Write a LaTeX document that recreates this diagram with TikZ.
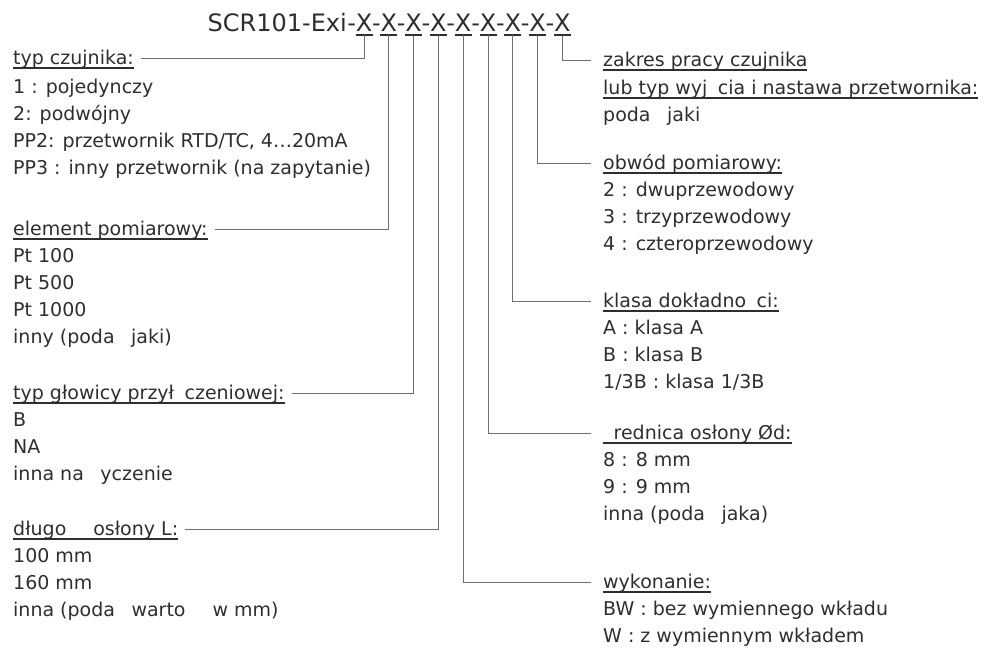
\documentclass[tikz,border=0pt]{standalone}
\usepackage{fontspec}
\setmainfont{DejaVu Sans}
\usetikzlibrary{calc}

\definecolor{ink}{HTML}{2E2E2E}
\definecolor{leadgray}{HTML}{707070}

% underlined heading text and a gap for a missing letter
\newcommand{\uln}[1]{\setbox0=\hbox{#1}\rlap{\rule[-4.5pt]{\wd0}{1.8pt}}\box0}
\newcommand{\miss}{\hspace{0.55em}}

\begin{document}
\begin{tikzpicture}[x=1pt, y=-1pt, line cap=butt, line join=miter]

% ---------------- styles ----------------
\tikzset{
  code/.style={font=\fontsize{24}{28}\selectfont, text=ink, inner sep=0pt},
  head/.style={font=\fontsize{19}{27}\selectfont, text=ink, inner sep=0pt, anchor=west,
               text height=14pt, text depth=1pt},
  item/.style={head},
  lead/.style={draw=leadgray, line width=0.9pt, shorten >=7pt},
  leadR/.style={lead, shorten >=12pt},
  bar/.style={draw=ink, line width=1.8pt}
}

% ---------------- parameters ----------------
\def\xfirst{364}   % centre of first X
\def\xstep{24.8}   % pitch of the X fields
\def\xl{13}        % left text column
\def\xr{603}       % right text column

\useasboundingbox (0,0) rectangle (997,651);

% ---------------- order code ----------------
\foreach \i in {1,...,9}{
  \node[code, anchor=base] (x\i) at ({\xfirst+\xstep*(\i-1)},31) {X};
  \node[code, anchor=base] (d\i) at ({\xfirst-\xstep/2+\xstep*(\i-1)},31) {-};
  \coordinate (b\i) at ([yshift=-4pt]x\i.base);
  \draw[bar] ([xshift=-8.5pt]b\i) -- ([xshift=8.5pt]b\i);
}
\node[code, anchor=base east] (code) at (d1.base west) {SCR101-Exi};

% ---------------- left column ----------------
\node[head] (h1) at (\xl,58) {\uln{typ czujnika:}};
\foreach \t [count=\k] in {1 : pojedynczy, 2: podwójny, {PP2: przetwornik RTD/TC, 4…20mA},
    PP3 : inny przetwornik (na zapytanie)}
  \node[item] (s1-\k) at (\xl,{87+27*(\k-1)}) {\t};

\node[head] (h2) at (\xl,229) {\uln{element pomiarowy:}};
\foreach \t [count=\k] in {Pt 100, Pt 500, Pt 1000, inny (poda\miss{} jaki)}
  \node[item] (s2-\k) at (\xl,{256+27*(\k-1)}) {\t};

\node[head] (h3) at (\xl,393) {\uln{typ głowicy przył\miss czeniowej:}};
\foreach \t [count=\k] in {B, NA, inna na \miss yczenie}
  \node[item] (s3-\k) at (\xl,{420+27*(\k-1)}) {\t};

\node[head] (h4) at (\xl,529) {\uln{długo\miss\miss{} osłony L:}};
\foreach \t [count=\k] in {100 mm, 160 mm, inna (poda\miss{} warto\miss\miss{} w mm)}
  \node[item] (s4-\k) at (\xl,{556+27*(\k-1)}) {\t};

% ---------------- right column ----------------
\node[head] (h9) at (\xr,60) {\uln{zakres pracy czujnika}};
\node[head] (h9b) at (\xr,88) {\uln{lub typ wyj\miss cia i nastawa przetwornika:}};
\node[item] (s9-1) at (\xr,115) {poda\miss{} jaki};

\node[head] (h8) at (\xr,163) {\uln{obwód pomiarowy:}};
\foreach \t [count=\k] in {2 : dwuprzewodowy, 3 : trzyprzewodowy, 4 : czteroprzewodowy}
  \node[item] (s8-\k) at (\xr,{190+27*(\k-1)}) {\t};

\node[head] (h7) at (\xr,301) {\uln{klasa dokładno\miss ci:}};
\foreach \t [count=\k] in {A : klasa A, B : klasa B, 1/3B : klasa 1/3B}
  \node[item] (s7-\k) at (\xr,{328+27*(\k-1)}) {\t};

\node[head] (h6) at (\xr,433) {\uln{\miss rednica osłony Ød:}};
\foreach \t [count=\k] in {8 : 8 mm, 9 : 9 mm, inna (poda\miss{} jaka)}
  \node[item] (s6-\k) at (\xr,{460+27*(\k-1)}) {\t};

\node[head] (h5) at (\xr,582) {\uln{wykonanie:}};
\foreach \t [count=\k] in {BW : bez wymiennego wkładu, W : z wymiennym wkładem}
  \node[item] (s5-\k) at (\xr,{609+27*(\k-1)}) {\t};

% ---------------- leaders ----------------
\draw[lead] (b1) |- (h1.east);
\draw[lead] (b2) |- (h2.east);
\draw[lead] (b3) |- (h3.east);
\draw[lead] (b4) |- (h4.east);
\draw[leadR] (b5) |- (h5.west);
\draw[leadR] (b6) |- (h6.west);
\draw[leadR] (b7) |- (h7.west);
\draw[leadR] (b8) |- (h8.west);
\draw[leadR] (b9) |- (h9.west);

\end{tikzpicture}
\end{document}
